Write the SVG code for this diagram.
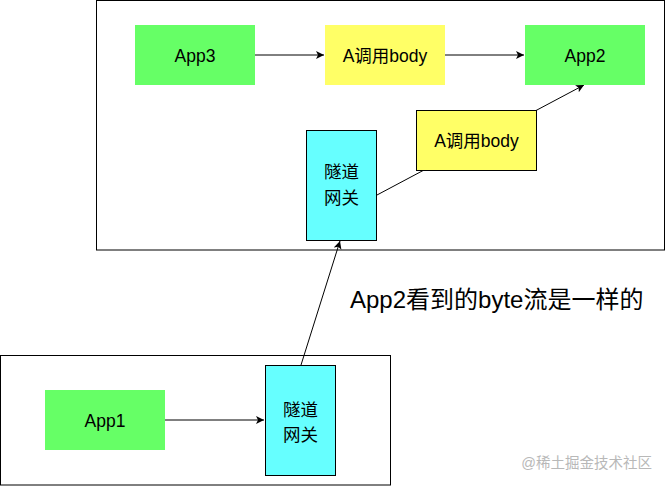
<svg xmlns="http://www.w3.org/2000/svg" width="666" height="486" viewBox="0 0 666 486">
<defs>
<style>
.frame{fill:#fff;stroke:#000;stroke-width:1}
.green{fill:#66FF66}
.yellow{fill:#FFFF66}
.yellowb{fill:#FFFF66;stroke:#000;stroke-width:1}
.cyan{fill:#66FFFF;stroke:#000;stroke-width:1}
.lbl{font-family:"Liberation Sans","Noto Sans CJK SC",sans-serif;font-size:17.5px;fill:#000;text-anchor:middle}
.edge{fill:none;stroke:#000;stroke-width:1}
.note{font-family:"Liberation Sans","Noto Sans CJK SC",sans-serif;font-size:24px;fill:#000}
.wm{font-family:"Liberation Sans","Noto Sans CJK SC",sans-serif;font-size:14.5px;fill:#b8b8b8;text-anchor:end}
</style>
<marker id="arr" markerWidth="10" markerHeight="10" refX="8" refY="4" orient="auto" markerUnits="userSpaceOnUse">
<path d="M0,0 L8,4 L0,8 L2,4 Z" fill="#000"/>
</marker>
</defs>
<rect width="666" height="486" fill="#fff"/>
<g id="frame-top"><rect class="frame" x="96.5" y="0.5" width="568" height="249.5"/></g>
<g id="frame-bottom"><rect class="frame" x="0.5" y="355.5" width="390" height="129.5"/></g>
<g id="connectors">
<line class="edge" x1="255" y1="55" x2="324" y2="55" marker-end="url(#arr)"/>
<line class="edge" x1="445" y1="55" x2="524" y2="55" marker-end="url(#arr)"/>
<line class="edge" x1="377" y1="195" x2="584" y2="85" marker-end="url(#arr)"/>
<line class="edge" x1="165" y1="420" x2="264" y2="420" stroke="#444" marker-end="url(#arr)"/>
<line class="edge" x1="301" y1="365" x2="340" y2="241" marker-end="url(#arr)"/>
</g>
<g id="app3"><rect class="green" x="135" y="25" width="120" height="60"/><text class="lbl" x="195" y="61.5">App3</text></g>
<g id="call-top"><rect class="yellow" x="325" y="25" width="120" height="60"/><text class="lbl" x="385" y="61.5">A调用body</text></g>
<g id="app2"><rect class="green" x="525" y="25" width="120" height="60"/><text class="lbl" x="585" y="61.5">App2</text></g>
<g id="call-mid"><rect class="yellowb" x="416.5" y="110.5" width="120" height="60"/><text class="lbl" x="476.5" y="146.5">A调用body</text></g>
<g id="gateway-top"><rect class="cyan" x="306.5" y="130.5" width="70" height="110"/><text class="lbl" x="341.5" y="178">隧道</text><text class="lbl" x="341.5" y="204">网关</text></g>
<g id="app1"><rect class="green" x="45" y="390" width="120" height="60"/><text class="lbl" x="105" y="426.5">App1</text></g>
<g id="gateway-bottom"><rect class="cyan" x="265.5" y="365.5" width="70" height="110"/><text class="lbl" x="300.5" y="416">隧道</text><text class="lbl" x="300.5" y="441">网关</text></g>
<g id="note"><text class="note" x="350" y="308">App2看到的byte流是一样的</text></g>
<g id="watermark"><text class="wm" x="652" y="468">@稀土掘金技术社区</text></g>
</svg>
